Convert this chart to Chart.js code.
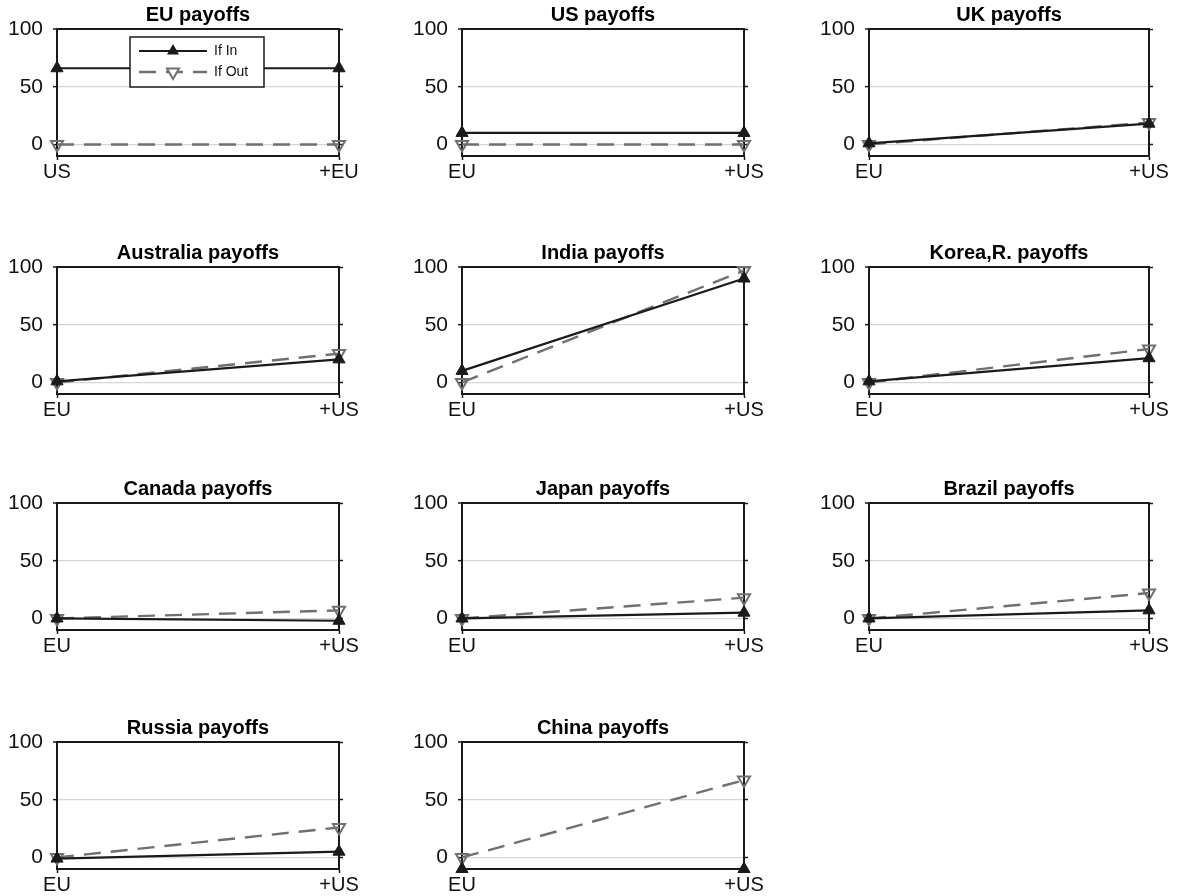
<!DOCTYPE html>
<html>
<head>
<meta charset="utf-8">
<script src="https://cdn.jsdelivr.net/npm/chart.js@4.4.1/dist/chart.umd.min.js"></script>
<style>
  html, body { margin: 0; padding: 0; background: #fff; overflow: hidden; }
  #wrap { position: relative; width: 1179px; height: 896px; }
  #wrap canvas { position: absolute; }
</style>
</head>
<body>
<div id="wrap"></div>
<script>
// panel titles, in reading order (3 per row)
const panelTitles = ["EU payoffs", "US payoffs", "UK payoffs",
  "Australia payoffs", "India payoffs", "Korea,R. payoffs",
  "Canada payoffs", "Japan payoffs", "Brazil payoffs",
  "Russia payoffs", "China payoffs"]

const xLabelsEU = ["US", "+EU"]
const xLabelsOthers = ["EU", "+US"]
const seriesNames = ["If In", "If Out"]

// payoffs: [first point, second point]
const ifIn = [[66, 66], [10, 10], [1, 18], [1, 20], [10, 90], [1, 21], [0, -2], [0, 5], [0, 7], [-1, 5], [-10, -10]]
const ifOut = [[0, 0], [0, 0], [0, 19], [0, 25], [0, 97], [0, 29], [0, 7], [0, 18], [0, 22], [0, 26], [0, 67]]

const yTicks = [0, 50, 100]
const yMin = -10
const yMax = 100

// layout of the grid
const colLeft = [57, 462, 869]
const colWidth = [282, 282, 280]
const rowTop = [29, 267, 503, 742]
const plotH = 127
const marginL = 57
const titleH = 29
const xAxisH = 40

Chart.defaults.font.family = "'Liberation Sans', Arial, sans-serif"
Chart.defaults.color = "#111"

const INK = "#1a1a1a"
const GREY = "#707070"

function triangle(ctx, x, y, r, down) {
    const s = down ? -1 : 1
    ctx.beginPath()
    ctx.moveTo(x, y - s * r)
    ctx.lineTo(x + r * 0.866, y + s * r * 0.5)
    ctx.lineTo(x - r * 0.866, y + s * r * 0.5)
    ctx.closePath()
}

// legend box drawn inside the plot area (only on the first panel)
const insetLegend = {
    id: "insetLegend",
    afterDatasetsDraw(chart, args, opts) {
        if (!opts.show) return
        const { ctx, chartArea } = chart
        const x = chartArea.left + 73, y = chartArea.top + 8, w = 134, h = 50
        ctx.save()
        ctx.fillStyle = "#fff"
        ctx.fillRect(x, y, w, h)
        ctx.strokeStyle = INK
        ctx.lineWidth = 1.5
        ctx.strokeRect(x, y, w, h)
        chart.data.datasets.forEach((ds, i) => {
            const cy = y + 14 + i * 21
            ctx.strokeStyle = ds.borderColor
            ctx.lineWidth = ds.borderWidth
            ctx.setLineDash(ds.borderDash || [])
            ctx.beginPath()
            ctx.moveTo(x + 9, cy)
            ctx.lineTo(x + 77, cy)
            ctx.stroke()
            ctx.setLineDash([])
            triangle(ctx, x + 43, cy, ds.pointRadius, ds.pointRotation === 180)
            if (ds.pointRotation === 180) {
                ctx.fillStyle = "#fff"
                ctx.fill()
                ctx.lineWidth = ds.pointBorderWidth
                ctx.strokeStyle = ds.pointBorderColor
                ctx.stroke()
            } else {
                ctx.fillStyle = ds.pointBackgroundColor
                ctx.fill()
            }
            ctx.fillStyle = "#111"
            ctx.font = "14px 'Liberation Sans', Arial, sans-serif"
            ctx.textBaseline = "middle"
            ctx.fillText(ds.label, x + 84, cy)
        })
        ctx.restore()
    }
}

const wrap = document.getElementById("wrap")

panelTitles.forEach((title, i) => {
    const col = i % 3
    const row = Math.floor(i / 3)
    const w = colWidth[col]
    const canvas = document.createElement("canvas")
    const cw = marginL + w + marginL
    const ch = titleH + plotH + xAxisH
    canvas.width = cw
    canvas.height = ch
    canvas.style.left = (colLeft[col] - marginL) + "px"
    canvas.style.top = (rowTop[row] - titleH) + "px"
    canvas.style.width = cw + "px"
    canvas.style.height = ch + "px"
    wrap.appendChild(canvas)

    new Chart(canvas, {
        type: "line",
        data: {
            labels: i === 0 ? xLabelsEU : xLabelsOthers,
            datasets: [{
                label: seriesNames[0],
                data: ifIn[i],
                borderColor: INK,
                borderWidth: 2.2,
                pointStyle: "triangle",
                pointRadius: 7,
                pointBackgroundColor: INK,
                pointBorderColor: INK,
                pointBorderWidth: 1,
                clip: false
            }, {
                label: seriesNames[1],
                data: ifOut[i],
                borderColor: GREY,
                borderWidth: 2.4,
                borderDash: [17, 10],
                pointStyle: "triangle",
                pointRotation: 180,
                pointRadius: 7,
                pointBackgroundColor: "rgba(0,0,0,0)",
                pointBorderColor: GREY,
                pointBorderWidth: 2,
                clip: false
            }]
        },
        options: {
            responsive: false,
            animation: false,
            events: [],
            layout: { padding: 0 },
            plugins: {
                legend: { display: false },
                tooltip: { enabled: false },
                title: {
                    display: true,
                    text: title,
                    color: "#000",
                    font: { size: 20, weight: "bold", lineHeight: 1.2 },
                    padding: { top: 3, bottom: 2 }
                },
                insetLegend: { show: i === 0 }
            },
            scales: {
                x: {
                    type: "category",
                    offset: false,
                    grid: { drawOnChartArea: false, tickLength: 4, tickColor: INK, tickWidth: 1.5 },
                    border: { color: INK, width: 2 },
                    ticks: { font: { size: 20 }, padding: 0, maxRotation: 0, autoSkip: false, color: "#111" },
                    afterFit: (scale) => { scale.height = xAxisH }
                },
                y: {
                    min: yMin,
                    max: yMax,
                    afterBuildTicks: (scale) => { scale.ticks = yTicks.map(v => ({ value: v })) },
                    grid: {
                        color: (c) => c.tick && c.tick.value === 100 ? INK : "#d6d6d6",
                        lineWidth: (c) => c.tick && c.tick.value === 100 ? 2 : 1.3,
                        tickLength: 4,
                        tickColor: INK,
                        tickWidth: 1.5
                    },
                    border: { color: INK, width: 2 },
                    ticks: { font: { size: 21 }, padding: 10, color: "#111" },
                    afterFit: (scale) => { scale.width = marginL }
                },
                y2: {
                    position: "right",
                    min: yMin,
                    max: yMax,
                    afterBuildTicks: (scale) => { scale.ticks = yTicks.map(v => ({ value: v })) },
                    grid: { drawOnChartArea: false, tickLength: 4, tickColor: INK, tickWidth: 1.5 },
                    border: { color: INK, width: 2 },
                    ticks: { display: false },
                    afterFit: (scale) => { scale.width = marginL }
                }
            }
        },
        plugins: [insetLegend]
    })
})
</script>
</body>
</html>
